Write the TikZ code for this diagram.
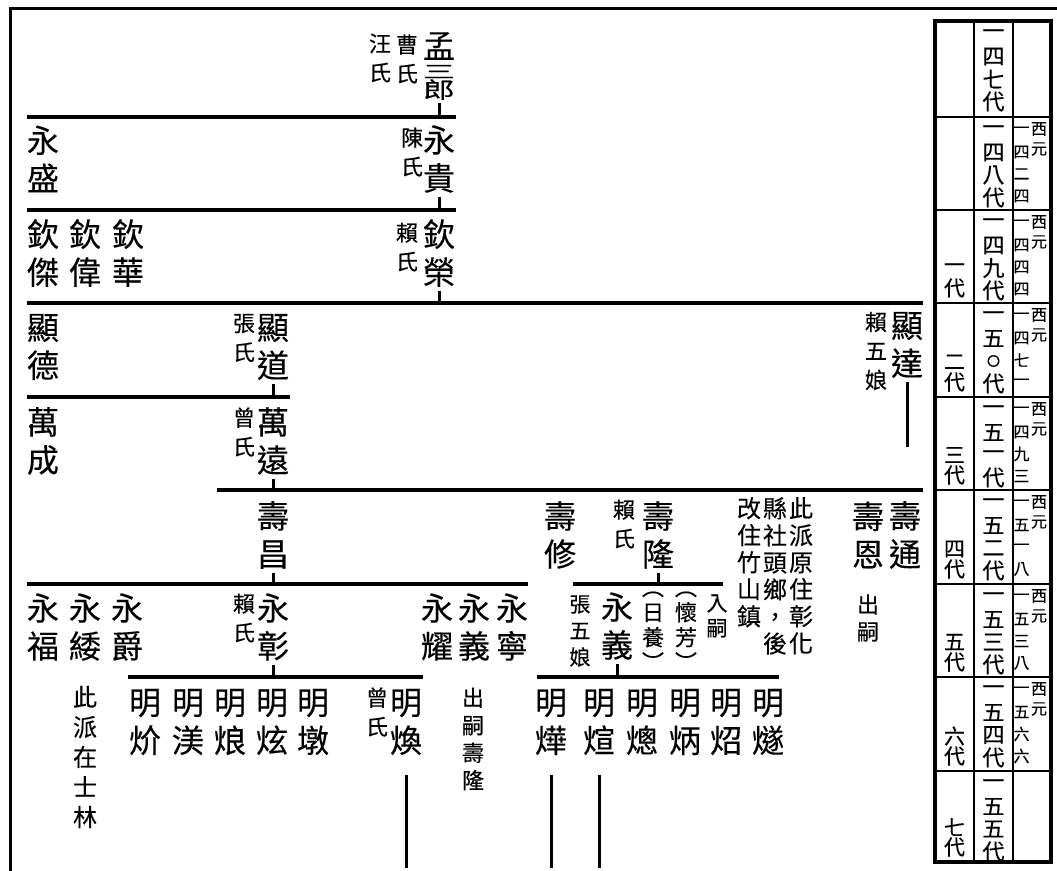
\documentclass[tikz,border=0pt]{standalone}
\usepackage{fontspec}
\usepackage{graphicx}
\newfontfamily\cjk[FakeBold=0.3]{Noto Sans CJK TC}
\usetikzlibrary{positioning}
\newcommand{\squeezechar}[2]{{\scalebox{1}[#1]{#2}}}

\begin{document}
\begin{tikzpicture}[x=1pt, y=-1pt,
    person/.style={font=\cjk\fontsize{32}{38}\selectfont, align=center, inner sep=0pt},
    spouse/.style={font=\cjk\fontsize{22}{29}\selectfont, align=center, inner sep=0pt},
    remark/.style={font=\cjk\fontsize{24}{27}\selectfont, align=center, inner sep=0pt},
    eratext/.style={font=\cjk\fontsize{22}{22}\selectfont, inner sep=0pt},
    gentext/.style={font=\cjk\fontsize{21}{21}\selectfont, inner sep=0pt},
    yeartext/.style={font=\cjk\fontsize{16}{16}\selectfont, inner sep=0pt},
    genbar/.style={line width=4pt},
    stemline/.style={line width=3pt},
    frameline/.style={line width=3pt},
    tableframe/.style={line width=4pt},
    tablerule/.style={line width=2pt}]

    \useasboundingbox (0,0) rectangle (1057,870);

    %% page frame
    \draw[frameline] (10,875) -- (10,8) -- (1062,8);

    %% generation table
    \draw[tableframe] (935,21) rectangle (1051,862);
    \foreach \yy in {117,210,303,397,490,584,677,771}
      \draw[tablerule] (935,\yy) -- (1051,\yy);
    \foreach \xx in {974,1013}
      \draw[tablerule] (\xx,21) -- (\xx,862);

    %% clan generation numbers
    \foreach \yt/\chars [count=\k] in {21/{一,四,七,代}, 117/{一,四,八,代},
        210/{一,四,九,代}, 303/{一,五,{\fontsize{13}{13}\selectfont 〇},代},
        397/{一,五,一,代}, 490/{一,五,二,代}, 584/{一,五,三,代},
        677/{一,五,四,代}, 771/{一,五,五,代}}
      \foreach \ch [count=\j] in \chars
        \node[eratext] (era\k-\j) at (993.5,{\yt+13+(\j-1)*22.5}) {\ch};

    %% local generation numbers
    \foreach \yb/\gen [count=\k] in {303/一, 397/二, 490/三, 584/四,
        677/五, 771/六, 862/七}{
      \node[gentext] (gen\k-1) at (954.5,\yb-35) {\gen};
      \node[gentext] (gen\k-2) at (954.5,\yb-15) {代};
    }

    %% years
    \foreach \yt/\chars [count=\k] in {117/{一,四,二,四}, 210/{一,四,四,四},
        303/{一,四,七,一}, 397/{一,四,九,三}, 490/{一,五,一,八},
        584/{一,五,三,八}, 677/{一,五,六,六}}{
      \foreach \ch [count=\j] in \chars
        \node[yeartext] (year\k-\j) at (1021.5,{\yt+13+(\j-1)*22}) {\ch};
      \node[yeartext] (xiyuan\k-1) at (1039,\yt+12) {西};
      \node[yeartext] (xiyuan\k-2) at (1039,\yt+32) {元};
    }

    %% generation 147
    \node[person, anchor=north, font=\cjk\fontsize{32}{20}\selectfont]
      (mengsanlang) at (439,32)
      {孟\\\squeezechar{0.55}{三}\\\squeezechar{0.7}{郎}};
    \node[spouse] (caoshi) at (407,59) {曹\\氏};
    \node[spouse] (wangshi) at (380,58) {汪\\氏};
    \coordinate (barA-l) at (27,117);
    \coordinate (barA-r) at (456,117);
    \draw[genbar] (barA-l) -- (barA-r);
    \draw[stemline] ([yshift=-3pt]mengsanlang.south) -- (mengsanlang.south |- barA-l);

    %% generation 148
    \node[person] (yongsheng) at (43,159) {永\\盛};
    \node[person] (yonggui) at (439,159) {永\\貴};
    \node[spouse] (chenshi) at (412,152) {陳\\氏};
    \coordinate (barB-l) at (27,210);
    \coordinate (barB-r) at (456,210);
    \draw[genbar] (barB-l) -- (barB-r);
    \draw[stemline] ([yshift=-4pt]yonggui.south) -- (yonggui.south |- barB-l);

    %% generation 149
    \foreach \xx/\nm/\txt in {43/qinjie/{欽\\傑}, 85/qinwei/{欽\\偉},
        128/qinhua/{欽\\華}, 439/qinrong/{欽\\榮}}
      \node[person] (\nm) at (\xx,253) {\txt};
    \node[spouse] (laishiA) at (407,247) {賴\\氏};
    \coordinate (barC-l) at (27,303);
    \coordinate (barC-r) at (923,303);
    \draw[genbar] (barC-l) -- (barC-r);
    \draw[stemline] ([yshift=-4pt]qinrong.south) -- (qinrong.south |- barC-l);

    %% generation 150
    \node[person] (xiande) at (43,347) {顯\\德};
    \node[person] (xiandao) at (273,347) {顯\\道};
    \node[spouse] (zhangshi) at (244,338) {張\\氏};
    \node[person] (xianda) at (907,345) {顯\\達};
    \node[spouse] (laiwuniangA) at (876,351) {賴\\五\\娘};
    \coordinate (xianda-end) at (907,447);
    \draw[stemline] ([yshift=-4pt]xianda.south) -- (xianda.south |- xianda-end);
    \coordinate (barD-l) at (27,397);
    \coordinate (barD-r) at (290,397);
    \draw[genbar] (barD-l) -- (barD-r);
    \draw[stemline] ([yshift=-4pt]xiandao.south) -- (xiandao.south |- barD-l);

    %% generation 151
    \node[person] (wancheng) at (43,441) {萬\\成};
    \node[person] (wanyuan) at (273,441) {萬\\遠};
    \node[spouse] (zengshiA) at (244,432) {曾\\氏};
    \coordinate (barE-l) at (217,490);
    \coordinate (barE-r) at (923,490);
    \draw[genbar] (barE-l) -- (barE-r);
    \draw[stemline] ([yshift=-4pt]wanyuan.south) -- (wanyuan.south |- barE-l);

    %% generation 152
    \foreach \xx/\nm/\txt in {273/shouchang/{壽\\昌}, 560/shouxiu/{壽\\修},
        658/shoulong/{壽\\隆}, 868/shouen/{壽\\恩}, 905/shoutong/{壽\\通}}
      \node[person] (\nm) at (\xx,535) {\txt};
    \node[spouse] (laishiB) at (624,524) {賴\\氏};
    \node[remark, anchor=north] (origin1) at (801,497) {此\\派\\原\\住\\彰\\化};
    \node[remark, anchor=north] (origin2) at (775,497) {縣\\社\\頭\\鄉\\，\\後};
    \node[remark, anchor=north] (origin3) at (749,497) {改\\住\\竹\\山\\鎮};
    \node[remark, font=\cjk\fontsize{22}{27}\selectfont] (chusiA) at (868,618) {出\\嗣};
    \coordinate (barF-l) at (27,584);
    \coordinate (barF-m) at (528,584);
    \coordinate (barFF-l) at (573,584);
    \coordinate (barFF-r) at (723,584);
    \draw[genbar] (barF-l) -- (barF-m);
    \draw[genbar] (barFF-l) -- (barFF-r);
    \draw[stemline] ([yshift=-4pt]shouchang.south) -- (shouchang.south |- barF-l);
    \draw[stemline] ([yshift=-4pt]shoulong.south) -- (shoulong.south |- barFF-l);

    %% generation 153
    \foreach \xx/\nm/\txt in {43/yongfu/{永\\福}, 85/yongrui/{永\\緌},
        127/yongjue/{永\\爵}, 273/yongzhang/{永\\彰}, 437/yongyao/{永\\耀},
        474/yongyiA/{永\\義}, 512/yongning/{永\\寧}}
      \node[person] (\nm) at (\xx,627) {\txt};
    \node[spouse] (laishiC) at (244,618) {賴\\氏};
    \node[person] (yongyiB) at (617,626) {永\\義};
    \node[spouse, font=\cjk\fontsize{21}{26.5}\selectfont] (zhangwuniang) at (580,631) {張\\五\\娘};
    \node[remark, font=\cjk\fontsize{22}{25}\selectfont] (riyang) at (653,631) {︵\\日\\養\\︶};
    \node[remark, font=\cjk\fontsize{22}{25}\selectfont] (huaifang) at (686,631) {︵\\懷\\芳\\︶};
    \node[remark, font=\cjk\fontsize{21}{25}\selectfont] (rusi) at (717,616) {入\\嗣};
    \coordinate (barG-l) at (128,677);
    \coordinate (barG-m) at (423,677);
    \coordinate (barGG-l) at (537,677);
    \coordinate (barGG-r) at (779,677);
    \draw[genbar] (barG-l) -- (barG-m);
    \draw[genbar] (barGG-l) -- (barGG-r);
    \draw[stemline] ([yshift=-4pt]yongzhang.south) -- (yongzhang.south |- barG-l);
    \draw[stemline] ([yshift=-4pt]yongyiB.south) -- (yongyiB.south |- barGG-l);

    %% generation 154
    \foreach \xx/\nm/\txt in {145/mingjie/{明\\炌}, 188/mingmei/{明\\渼},
        230/minglang/{明\\烺}, 272/mingxuanA/{明\\炫}, 313/mingdun/{明\\墩},
        406/minghuan/{明\\煥}, 551/mingye/{明\\燁}, 599/mingxuanB/{明\\煊},
        642/mingcong/{明\\熜}, 685/mingbing/{明\\炳}, 726/mingzhao/{明\\炤},
        768/mingsui/{明\\燧}}
      \node[person] (\nm) at (\xx,722) {\txt};
    \node[spouse] (zengshiB) at (377,712) {曾\\氏};
    \node[remark, font=\cjk\fontsize{24}{30}\selectfont] (shilin) at (85,757) {此\\派\\在\\士\\林};
    \node[remark, font=\cjk\fontsize{22}{27.5}\selectfont] (chusiB) at (473,739) {出\\嗣\\壽\\隆};

    %% lines continuing down
    \foreach \nm in {minghuan, mingye, mingxuanB}{
      \coordinate (\nm-end) at ([yshift=-113pt]\nm.south);
      \draw[stemline] ([yshift=-20pt]\nm.south) -- (\nm-end);
    }

\end{tikzpicture}
\end{document}
